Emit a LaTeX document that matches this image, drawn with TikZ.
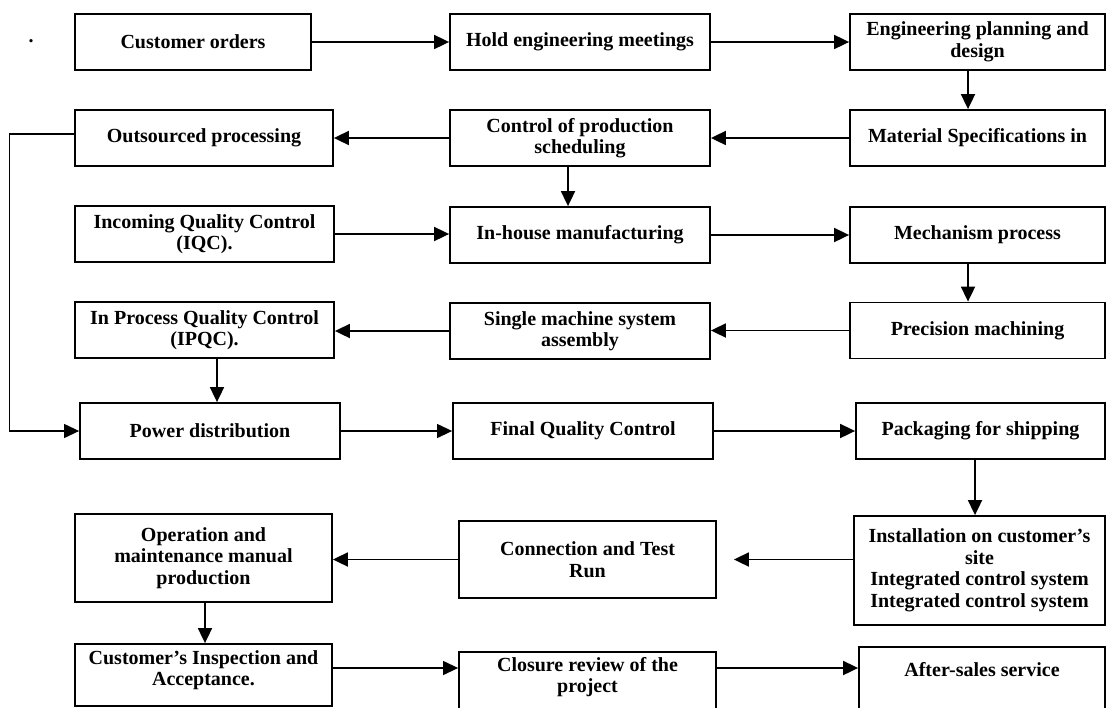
\documentclass[tikz,border=0pt]{standalone}
\usepackage{fontspec}
\setmainfont{Liberation Serif}
\usetikzlibrary{arrows.meta}
\begin{document}
\begin{tikzpicture}[x=1pt,y=-1pt,
  box/.style={draw, line width=1.8pt, minimum height=56pt, align=center, inner sep=2pt,
    font=\bfseries\fontsize{20}{21.5}\selectfont},
  lbl/.style={align=center, inner sep=0pt, font=\bfseries\fontsize{20}{21.5}\selectfont},
  arr/.style={line width=1.8pt, -{Triangle[length=15pt,width=14pt]}},
  thinarr/.style={line width=1.2pt, -{Triangle[length=15pt,width=14pt]}},
]
\clip (0,0) rectangle (1107,707);
\fill[white] (0,0) rectangle (1107,707);

% stray full stop at the top left
\node[lbl, anchor=base] (dot) at (31,42) {.};

% row 1
\node[box, minimum width=236pt] (co) at (193,42) {Customer orders};
\node[box, minimum width=260pt] (hem) at (580,42) {Hold engineering meetings};
\node[box, minimum width=255pt] (epd) at (977.5,42) {Engineering planning and\\design};
% row 2
\node[box, minimum width=255pt] (mat) at (977.5,138) {Material Specifications in};
\node[box, minimum width=260pt] (cps) at (580,138) {Control of production\\scheduling};
\node[box, minimum width=258pt] (out) at (204,138) {Outsourced processing};
% row 3
\node[box, minimum width=259pt] (iqc) at (204.5,234) {Incoming Quality Control\\(IQC).};
\node[box, minimum width=260pt] (inh) at (580,235) {In-house manufacturing};
\node[box, minimum width=255pt] (mech) at (977.5,235) {Mechanism process};
% row 4
\node[box, minimum width=255pt] (prec) at (977.5,330.5) {Precision machining};
\node[box, minimum width=260pt] (smsa) at (580,331) {Single machine system\\assembly};
\node[box, minimum width=259pt] (ipqc) at (204.5,330) {In Process Quality Control\\(IPQC).};
% row 5
\node[box, minimum width=260pt] (pow) at (210,431) {Power distribution};
\node[box, minimum width=260pt] (fqc) at (583,431) {Final Quality Control};
\node[box, minimum width=249pt] (pack) at (980.5,431) {Packaging for shipping};
% row 6
\node[box, minimum width=251pt, minimum height=109pt] (inst) at (979.5,570.5)
  {Installation on customer’s\\site\\Integrated control system\\Integrated control system};
\node[box, minimum width=257pt, minimum height=77pt] (conn) at (587.5,559.5) {Connection and Test\\Run};
\node[box, minimum width=257pt, minimum height=88pt] (oper) at (203.5,558)
  {Operation and\\maintenance manual\\production};
% row 7 (runs off the lower edge)
\node[box, minimum width=257pt, minimum height=62pt] (insp) at (203.5,675) {};
\node[lbl] (insp-t) at (203.5,670) {Customer’s Inspection and\\Acceptance.};
\node[box, minimum width=257pt, minimum height=80pt] (clos) at (587.5,692) {};
\node[lbl] (clos-t) at (587.5,677) {Closure review of the\\project};
\node[box, minimum width=246pt, minimum height=80pt] (aft) at (982,687) {};
\node[lbl] (aft-t) at (982,670) {After-sales service};

% connectors
\draw[arr] (co) -- (hem);
\draw[arr] (hem) -- (epd);
\draw[arr] ([xshift=-9.5pt]epd.south) -- ([xshift=-9.5pt]mat.north);
\draw[arr] (mat) -- (cps);
\draw[arr] (cps) -- (out);
\draw[arr] ([xshift=-12pt]cps.south) -- ([xshift=-12pt]inh.north);
\draw[thinarr] ([yshift=4pt]out.west) -- ++(-65,0) |- (pow.west);
\draw[arr] (iqc.east) -- (iqc.east -| inh.west);
\draw[arr] (inh) -- (mech);
\draw[arr] ([xshift=-9.5pt]mech.south) -- ([xshift=-9.5pt]prec.north);
\draw[arr] (prec.west) -- (prec.west -| smsa.east);
\draw[arr] (smsa.west) -- (smsa.west -| ipqc.east);
\coordinate (c1) at ([xshift=12.5pt]ipqc.south);
\draw[arr] (c1) -- (c1 |- pow.north);
\draw[thinarr] (pow) -- (fqc);
\draw[arr] (fqc) -- (pack);
\coordinate (c2) at ([xshift=-5.5pt]pack.south);
\draw[arr] (c2) -- (c2 |- inst.north);
\coordinate (c3) at ([xshift=17pt]conn.east);
\draw[arr] (inst.west |- conn.east) -- (c3);
\draw[arr] (conn.west) -- (conn.west -| oper.east);
\coordinate (c4) at ([xshift=1.5pt]oper.south);
\draw[arr] (c4) -- (c4 |- insp.north);
\coordinate (c5) at ([yshift=7pt]insp.east);
\draw[thinarr] (c5) -- (c5 -| clos.west);
\draw[arr] (c5 -| clos.east) -- (c5 -| aft.west);
\end{tikzpicture}
\end{document}
